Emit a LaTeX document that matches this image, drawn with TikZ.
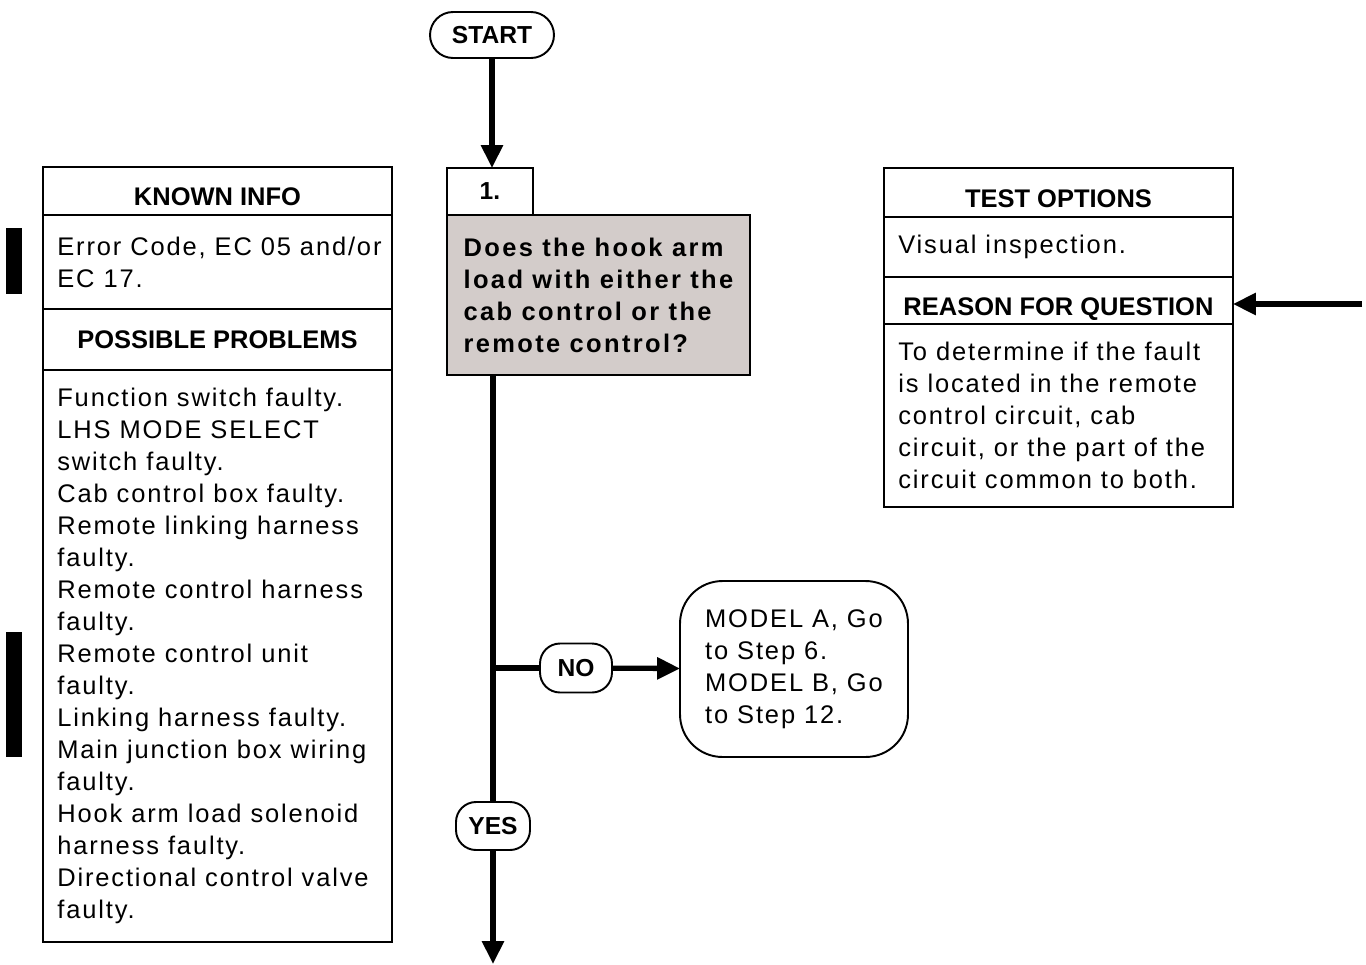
\documentclass[tikz,border=0pt]{standalone}
\usepackage{fontspec}
\setmainfont{Liberation Sans}
\newfontfamily\trackfont[LetterSpace=7.3]{Liberation Sans}
\newfontfamily\asktrack[LetterSpace=9.2]{Liberation Sans}
\usetikzlibrary{arrows.meta,positioning}
\definecolor{askgray}{RGB}{211,204,202}
\tikzset{
	frame/.style={draw,line width=1.1pt,outer sep=0pt,minimum width=6.98cm,inner sep=0pt},
	head/.style={frame,font=\fontsize{14.5}{17}\selectfont\bfseries},
	low/.style={text height=17pt,text depth=0pt},
	body/.style={align=left,inner sep=0pt,anchor=west,font=\trackfont\fontsize{14.5}{18.2}\selectfont},
	tag/.style={draw,line width=1.1pt,outer sep=0pt,rounded corners=0.4cm,inner sep=0pt,font=\fontsize{14}{17}\selectfont\bfseries},
	flow/.style={line width=3pt}
}
\begin{document}
\begin{tikzpicture}[x=0.02cm,y=-0.02cm,>={Triangle[length=13pt,width=12pt]}]
	\useasboundingbox (0,0) rectangle (1366,964);
	% change bars
	\fill (6,228) rectangle (22,294);
	\fill (6,632) rectangle (22,757);
	% left column
	\node[head,low,minimum height=0.96cm,anchor=north west] (hdrknown) at (43,167) {KNOWN INFO};
	\node[frame,minimum height=1.88cm,below=0pt of hdrknown] (known) {};
	\node[head,minimum height=1.22cm,below=0pt of known] (hdrprob) {POSSIBLE PROBLEMS};
	\node[frame,minimum height=11.44cm,below=0pt of hdrprob] (prob) {};
	\node[body] (knowntxt) at ([xshift=0.28cm]known.west) {Error Code, EC 05 and/or\\EC 17.};
	\node[body] (probtxt) at ([xshift=0.28cm]prob.west) {Function switch faulty.\\LHS MODE SELECT\\switch faulty.\\Cab control box faulty.\\Remote linking harness\\faulty.\\Remote control harness\\faulty.\\Remote control unit\\faulty.\\Linking harness faulty.\\Main junction box wiring\\faulty.\\Hook arm load solenoid\\harness faulty.\\Directional control valve\\faulty.};
	% right column
	\node[head,low,minimum height=0.98cm,anchor=north west] (hdrtest) at (884,168) {TEST OPTIONS};
	\node[frame,minimum height=1.2cm,below=0pt of hdrtest] (test) {};
	\node[head,low,minimum height=0.94cm,below=0pt of test] (hdrreason) {REASON FOR QUESTION};
	\node[frame,minimum height=3.66cm,below=0pt of hdrreason] (reason) {};
	\node[body] (testtxt) at ([xshift=0.28cm]test.west) {Visual inspection.};
	\node[body] (reasontxt) at ([xshift=0.28cm]reason.west) {To determine if the fault\\is located in the remote\\control circuit, cab\\circuit, or the part of the\\circuit common to both.};
	% flow
	\node[tag,rounded corners=0.46cm,minimum width=2.48cm,minimum height=0.92cm] (start) at (492,35) {START};
	\node[draw,line width=1.1pt,outer sep=0pt,minimum width=1.72cm,minimum height=0.94cm,anchor=north west,font=\fontsize{14}{17}\selectfont\bfseries] (step) at (447,168) {1.};
	\node[draw,fill=askgray,line width=1.1pt,outer sep=0pt,anchor=north west,minimum width=6.06cm,minimum height=3.2cm,inner sep=0pt,align=left,font=\asktrack\bfseries\fontsize{14.5}{18.2}\selectfont] (ask) at (step.south west) {Does the hook arm\\load with either the\\cab control or the\\remote control?};
	\node[tag,minimum width=1.44cm,minimum height=0.98cm] (no) at (576,668) {NO};
	\node[tag,minimum width=1.48cm,minimum height=0.96cm] (yes) at (493,826) {YES};
	\node[draw,line width=1.1pt,outer sep=0pt,rounded corners=0.85cm,minimum width=4.56cm,minimum height=3.52cm,inner sep=0pt,align=left,font=\trackfont\fontsize{14.5}{18.2}\selectfont] (model) at (794,669) {MODEL A, Go\\to Step 6.\\MODEL B, Go\\to Step 12.};
	\coordinate (out) at (493,964);
	\coordinate (back) at (1362,304);
	\draw[flow,->] (start) -- (start |- step.north);
	\draw[flow] (yes |- ask.south) -- (yes);
	\draw[flow] (yes |- no) -- (no);
	\draw[flow,->] (no) -- (model);
	\draw[flow,->] (yes) -- (out);
	\draw[flow,->] (back) -- (back -| hdrreason.east);
\end{tikzpicture}
\end{document}
